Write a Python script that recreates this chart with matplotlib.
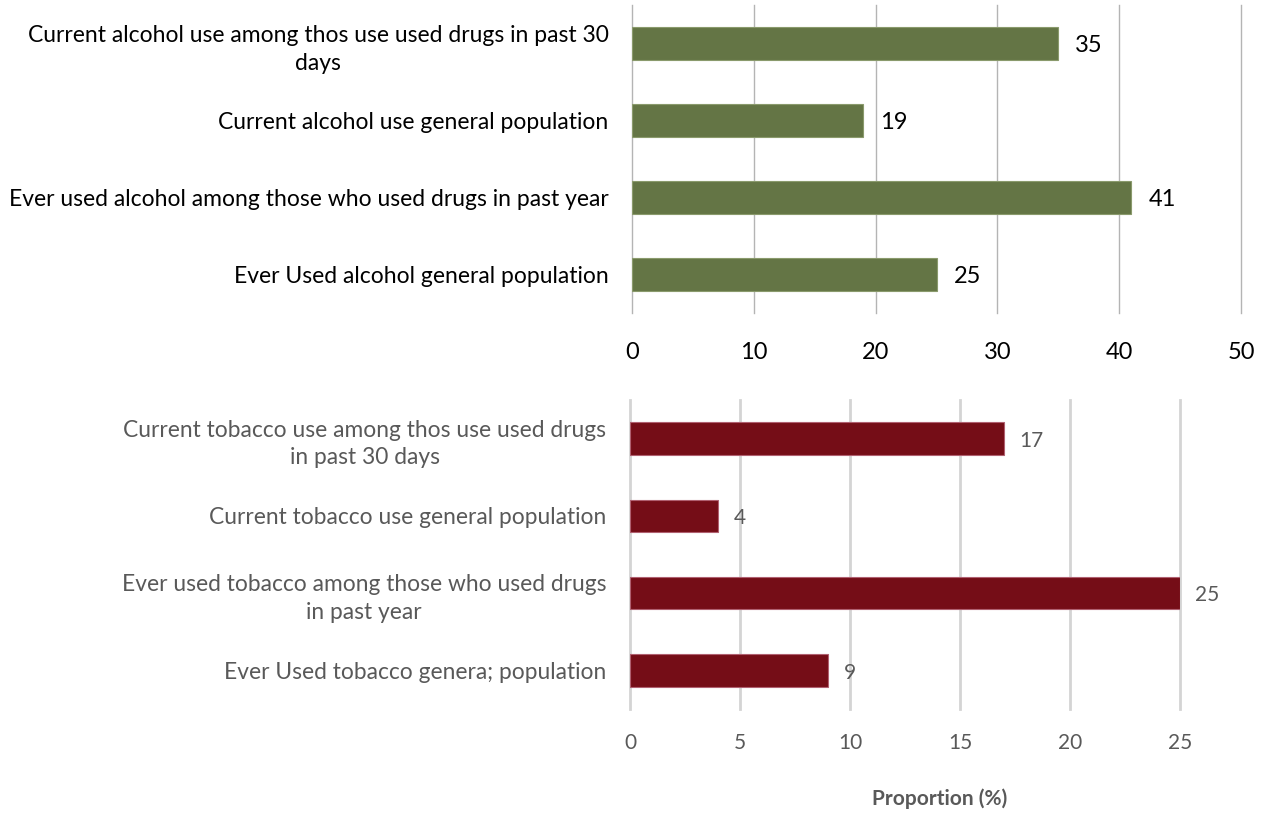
import matplotlib
matplotlib.use('Agg')
import matplotlib.pyplot as plt

plt.rcParams['font.family'] = ['Lato', 'DejaVu Sans']

# alcohol panel (top)
alcohol_labels = ["Current alcohol use among thos use used drugs in past 30\ndays",
                  "Current alcohol use general population",
                  "Ever used alcohol among those who used drugs in past year",
                  "Ever Used alcohol general population"]
alcohol_values = [35, 19, 41, 25]
alcohol_ticks = [0, 10, 20, 30, 40, 50]

# tobacco panel (bottom)
tobacco_labels = ["Current tobacco use among thos use used drugs\nin past 30 days",
                  "Current tobacco use general population",
                  "Ever used tobacco among those who used drugs\nin past year",
                  "Ever Used tobacco genera; population"]
tobacco_values = [17, 4, 25, 9]
tobacco_ticks = [0, 5, 10, 15, 20, 25]

fig = plt.figure(figsize=(12.69, 8.14), dpi=100)

W, H = 1269.0, 814.0
ax1 = fig.add_axes([632 / W, 1 - 313 / H, (1241 - 632) / W, (313 - 5) / H])
ax2 = fig.add_axes([630 / W, 1 - 709 / H, (1180 - 630) / W, (709 - 400) / H])


def panel(ax, labels, values, ticks, color, edge, txtcolor, gridcolor, gridw,
          lsize, tsize, vsize, tickpad, lspace):
    y = list(range(len(values)))
    ax.barh(y, values, height=0.42, color=color, edgecolor=edge, linewidth=0.8, zorder=3)
    ax.set_ylim(3.5, -0.5)
    ax.set_xlim(ticks[0], ticks[-1])
    ax.set_xticks(ticks)
    ax.set_yticks(y)
    ax.set_yticklabels(labels, fontsize=lsize, color=txtcolor, multialignment='center',
                       linespacing=lspace)
    ax.tick_params(axis='y', length=0, pad=17)
    ax.tick_params(axis='x', length=0, pad=tickpad, labelsize=tsize, labelcolor=txtcolor)
    for s in ax.spines.values():
        s.set_visible(False)
    ax.grid(axis='x', color=gridcolor, linewidth=gridw, zorder=0)
    for gl in ax.get_xgridlines():
        gl.set_clip_on(False)
    for yi, v in zip(y, values):
        ax.text(v + ticks[-1] * 0.028, yi + 0.03, str(v), va='center', ha='left',
                fontsize=vsize, color=txtcolor)


panel(ax1, alcohol_labels, alcohol_values, alcohol_ticks, '#647545', '#8a9a6c',
      '#000000', '#b4b4b4', 1.0, 16.5, 17, 17, 21, 1.45)
panel(ax2, tobacco_labels, tobacco_values, tobacco_ticks, '#750d17', '#b06070',
      '#595959', '#d4d4d4', 2.0, 16.4, 15, 15, 17, 1.4)

fig.text(940 / W, 1 - 799 / H, "Proportion (%)", fontsize=15, fontweight='bold',
         color='#595959', ha='center', va='center')

fig.savefig('out.png', dpi=100)
